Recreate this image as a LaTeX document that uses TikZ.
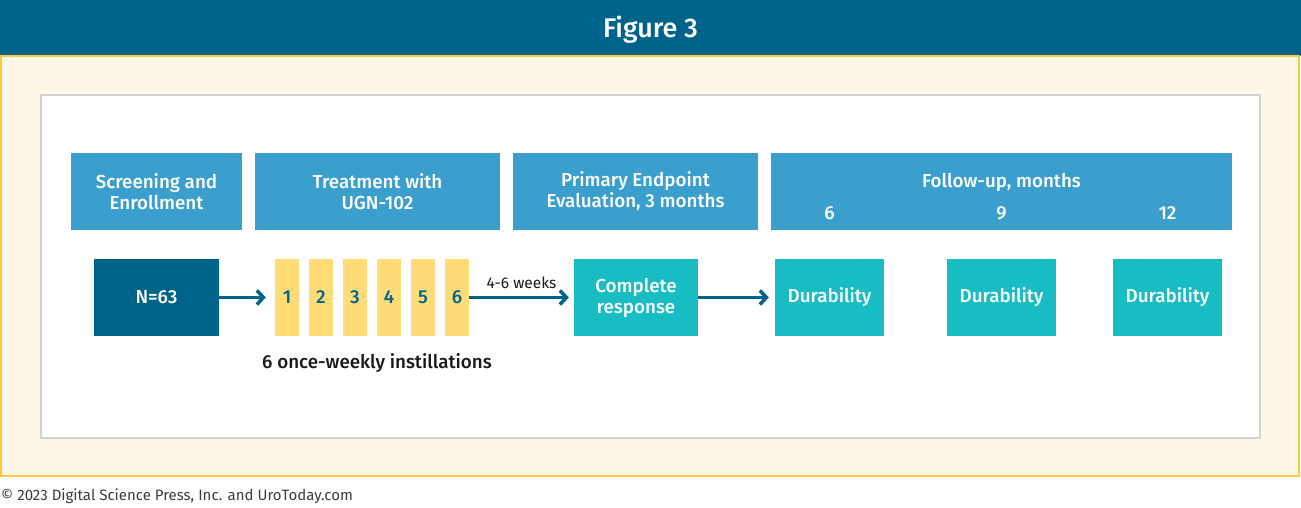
\documentclass[tikz,border=0pt]{standalone}
\usepackage{fontspec}
\setmainfont{Fira Sans}
\newfontfamily\medfont{Fira Sans Medium}
\usetikzlibrary{arrows.meta,positioning}
\usepackage{xcolor}
\definecolor{headdark}{RGB}{0,100,138}
\definecolor{stageblue}{RGB}{58,159,204}
\definecolor{teal}{RGB}{24,189,196}
\definecolor{doseyellow}{RGB}{255,220,120}
\definecolor{cream}{RGB}{255,248,233}
\definecolor{rimyellow}{RGB}{250,204,60}
\definecolor{rimgray}{RGB}{210,210,210}
\definecolor{ink}{RGB}{25,25,25}
\tikzset{
  stagebox/.style={fill=stageblue,text=white,align=center,inner sep=0pt,
    minimum height=77pt,font=\medfont\fontsize{18.8}{21}\selectfont},
  rowbox/.style={inner sep=0pt,minimum height=77pt,text=white,align=center,
    font=\medfont\fontsize{18.8}{21}\selectfont},
  dosebar/.style={fill=doseyellow,inner sep=0pt,minimum width=24pt,minimum height=77pt,
    text=headdark,font=\medfont\fontsize{18.8}{21}\selectfont},
  flow/.style={headdark,line width=3.5pt,-{Straight Barb[length=6.5pt,width=14pt]}}
}

\begin{document}
\begin{tikzpicture}[x=1pt,y=1pt]
  \useasboundingbox (0,0) rectangle (1301,507);
  % frame
  \fill[headdark] (0,451) rectangle (1301,507);
  \node[text=white,font=\medfont\fontsize{27}{30}\selectfont] (title) at (650.5,477) {Figure 3};
  \draw[rimyellow,fill=cream,line width=2pt] (1,31) rectangle (1299,451);
  \draw[rimgray,fill=white,line width=2pt] (41,69) rectangle (1260,412);
  % stage headers
  \node[stagebox,minimum width=171pt] (screen) at (156.5,315.5) {Screening and\\Enrollment};
  \node[stagebox,minimum width=245pt] (treat) at (377.5,315.5) {Treatment with\\UGN-102};
  \node[stagebox,minimum width=245pt] (primary) at (635.5,315.5) {Primary Endpoint\\Evaluation, 3 months};
  \node[stagebox,minimum width=461pt] (follow) at (1001.5,315.5) {};
  \node[text=white,font=\medfont\fontsize{18.8}{21}\selectfont] (followlab) at (1001.5,325) {Follow-up, months};
  \foreach \x/\m in {829.5/6,1001.5/9,1167.5/12}
    \node[text=white,font=\medfont\fontsize{18.8}{21}\selectfont] (mon\m) at (\x,294) {\m};
  % patient flow
  \node[rowbox,fill=headdark,minimum width=125pt] (enrol) at (156.5,209.5) {N=63};
  \foreach \i/\x in {1/287,2/321,3/355,4/389,5/423,6/457}
    \node[dosebar] (dose\i) at (\x,209.5) {\i};
  \node[rowbox,fill=teal,minimum width=124pt] (cr) at (636,209.5) {Complete\\response};
  \foreach \i/\x in {1/829.5,2/1001.5,3/1167.5}
    \node[rowbox,fill=teal,minimum width=109pt] (dur\i) at (\x,209.5) {Durability};
  \draw[flow,shorten >=9pt] (enrol) -- (dose1);
  \draw[flow,shorten >=5pt] (dose6) -- node[above=4pt,text=ink,font=\fontsize{15.5}{18}\selectfont] (gap) {4-6 weeks} (cr);
  \draw[flow,shorten >=6pt] (cr) -- (dur1);
  \node[text=ink,font=\medfont\fontsize{18.8}{21}\selectfont] (course) at (377,144) {6 once-weekly instillations};
  \node[anchor=west,inner sep=0pt,text=ink!85,font=\fontsize{15}{18}\selectfont] (credit) at (1,11) {\textcopyright{} 2023 Digital Science Press, Inc. and UroToday.com};
\end{tikzpicture}
\end{document}
